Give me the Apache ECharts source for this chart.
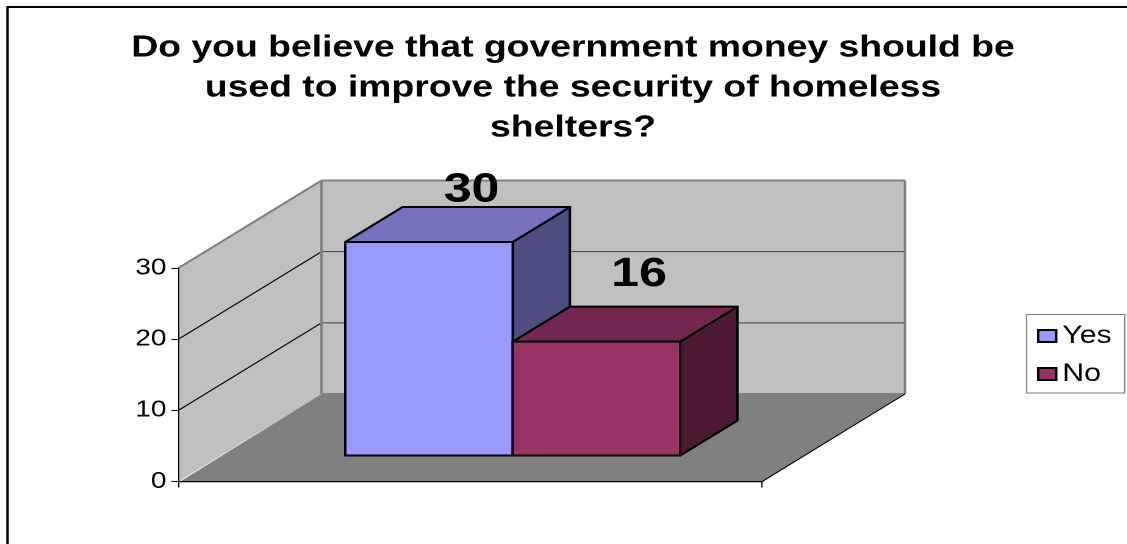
<!DOCTYPE html>
<html>
<head>
<meta charset="utf-8">
<style>
html,body{margin:0;padding:0;background:#fff;overflow:hidden}
/* The drawing is laid out narrow and widened so the lettering takes on its broad proportions */
#chart{width:923.8px;height:544px;transform:scaleX(1.22);transform-origin:0 0}
</style>
<script src="https://cdn.jsdelivr.net/npm/echarts@6/dist/echarts.min.js"></script>
</head>
<body>
<div id="chart"></div>
<script>
// Survey answers
const categories = [''];
const answers = ['Yes', 'No'];
const yesValues = [30];
const noValues = [16];
const axisTicks = [0, 10, 20, 30];
const titleLines = [
  'Do you believe that government money should be',
  'used to improve the security of homeless',
  'shelters?'
];

const WIDEN = 1.22;           // horizontal widening set on #chart
const wide = x => x / WIDEN;  // page pixels to chart pixels, horizontally
const FONT = '"Liberation Sans", Arial, sans-serif';

// Oblique projection of the chart box
const DEPTH_X = wide(143);
const DEPTH_Y = -87.5;
const BAR_NEAR = 0.297;    // share of the box depth in front of the bars
const BAR_FAR = 0.697;     // share of the box depth behind the bars' back faces
const BARS_SHARE = 0.574;  // bars' combined width as a share of the floor width

const poly = (points, fill, stroke, lineWidth) => ({
  type: 'polygon',
  shape: { points },
  style: { fill, stroke: stroke || 'none', lineWidth: lineWidth || 0, lineJoin: 'round' }
});
const line = (a, b, stroke, lineWidth) => ({
  type: 'line',
  shape: { x1: a[0], y1: a[1], x2: b[0], y2: b[1] },
  style: { stroke, lineWidth: lineWidth || 1 }
});

// Walls, floor and the gridlines running across them
function renderBox(params, api) {
  const mid = api.coord([0, 0]);
  const half = api.size([1, 0])[0] / 2;
  const left = mid[0] - half;
  const right = mid[0] + half;
  const y = v => api.coord([0, v])[1];
  const y0 = y(0);
  const yTop = y(axisTicks[axisTicks.length - 1]);
  const back = (x, yy) => [x + DEPTH_X, yy + DEPTH_Y];
  const children = [
    poly([[left, y0], [left, yTop], back(left, yTop), back(left, y0)], '#c0c0c0'),
    poly([back(left, yTop), back(right, yTop), back(right, y0), back(left, y0)], '#c0c0c0'),
    poly([[left, y0 + 1], [right, y0 + 1], back(right, y0), back(left, y0)], '#808080')
  ];
  axisTicks.slice(1, -1).forEach(v => {
    children.push(line([left, y(v)], back(left, y(v)), '#000', 1));
    children.push(line(back(left, y(v)), back(right, y(v)), '#404040', 1));
  });
  children.push(
    line([left, yTop], back(left, yTop), '#808080', 2),
    line(back(left, yTop), back(right, yTop), '#808080', 2),
    line(back(left, yTop), back(left, y0), '#808080', 2),
    line(back(right, yTop), back(right, y0), '#808080', 2),
    line(back(left, y0), back(right, y0), '#808080', 2),
    line([right, y0], back(right, y0), '#000', 1)
  );
  return { type: 'group', children };
}

// One cuboid bar with its value above it
function makeBar(slot, front, top, side, labelLift) {
  return function (params, api) {
    const value = api.value(1);
    const mid = api.coord([0, 0]);
    const band = api.size([1, 0])[0];
    const barWidth = band * BARS_SHARE / answers.length;
    const shiftX = DEPTH_X * BAR_NEAR;
    const shiftY = DEPTH_Y * BAR_NEAR;
    const dx = DEPTH_X * (BAR_FAR - BAR_NEAR);
    const dy = DEPTH_Y * (BAR_FAR - BAR_NEAR);
    const x1 = mid[0] - band * BARS_SHARE / 2 + slot * barWidth + shiftX;
    const x2 = x1 + barWidth;
    const yb = mid[1] + shiftY;
    const yt = api.coord([0, value])[1] + shiftY;
    const edge = '#000';
    return {
      type: 'group',
      children: [
        poly([[x2, yb], [x2, yt], [x2 + dx, yt + dy], [x2 + dx, yb + dy]], side, edge, 2),
        poly([[x1, yt], [x2, yt], [x2 + dx, yt + dy], [x1 + dx, yt + dy]], top, edge, 2),
        poly([[x1, yb], [x2, yb], [x2, yt], [x1, yt]], front, edge, 2),
        {
          type: 'text',
          z2: 50,
          style: {
            text: String(value),
            x: (x1 + x2) / 2 + dx / 2 + wide(14),
            y: yt + dy - labelLift,
            align: 'center',
            verticalAlign: 'middle',
            fill: '#000',
            font: 'bold 41px ' + FONT
          }
        }
      ]
    };
  };
}

const chart = echarts.init(document.getElementById('chart'), null, { renderer: 'canvas', devicePixelRatio: 2 });
chart.setOption({
  animation: false,
  backgroundColor: '#fff',
  title: {
    text: titleLines.join('\n'),
    left: wide(573) - 5,
    top: 23,
    textAlign: 'center',
    textStyle: {
      fontFamily: FONT,
      fontWeight: 'bold',
      fontSize: 30.6,
      lineHeight: 40,
      color: '#000'
    }
  },
  legend: {
    data: answers,
    orient: 'vertical',
    icon: 'rect',
    left: wide(1026.5),
    top: 314.5,
    padding: [9, wide(13), 6.5, wide(10.5)],
    itemGap: 13,
    itemWidth: wide(18),
    itemHeight: 12,
    borderColor: '#808080',
    borderWidth: 1,
    selectedMode: false,
    textStyle: { fontFamily: FONT, fontSize: 24.8, color: '#000' }
  },
  grid: { left: wide(178.5), top: 268, width: wide(583.5), height: 213.5, containLabel: false },
  xAxis: {
    type: 'category',
    data: categories,
    z: 5,
    axisLine: { show: true, lineStyle: { color: '#000', width: 1 } },
    axisTick: { show: true, length: 6, lineStyle: { color: '#000' } },
    axisLabel: { show: false },
    splitLine: { show: false }
  },
  yAxis: {
    type: 'value',
    min: 0,
    max: 30,
    interval: 10,
    z: 5,
    axisLine: { show: true, lineStyle: { color: '#000', width: 1 } },
    axisTick: { show: true, length: wide(7), lineStyle: { color: '#000' } },
    axisLabel: { margin: wide(12), fontFamily: FONT, fontSize: 23, color: '#000' },
    splitLine: { show: false }
  },
  series: [
    {
      name: 'box', type: 'custom', silent: true, clip: false, z: 1,
      data: [[0, axisTicks[axisTicks.length - 1]]],
      renderItem: renderBox
    },
    {
      name: answers[0], type: 'custom', clip: false, z: 2,
      itemStyle: { color: '#9999ff', borderColor: '#000', borderWidth: 1.5 },
      data: yesValues.map((v, i) => [i, v]),
      renderItem: makeBar(0, '#9999ff', '#7373bf', '#4d4d80', 17)
    },
    {
      name: answers[1], type: 'custom', clip: false, z: 3,
      itemStyle: { color: '#993366', borderColor: '#000', borderWidth: 1.5 },
      data: noValues.map((v, i) => [i, v]),
      renderItem: makeBar(1, '#993366', '#732650', '#4d1a33', 32)
    }
  ],
  graphic: [{
    type: 'rect',
    silent: true,
    z: 100,
    shape: { x: wide(7.5), y: 7, width: 1300, height: 700 },
    style: { fill: 'none', stroke: '#000', lineWidth: 2 }
  }]
});
</script>
</body>
</html>
